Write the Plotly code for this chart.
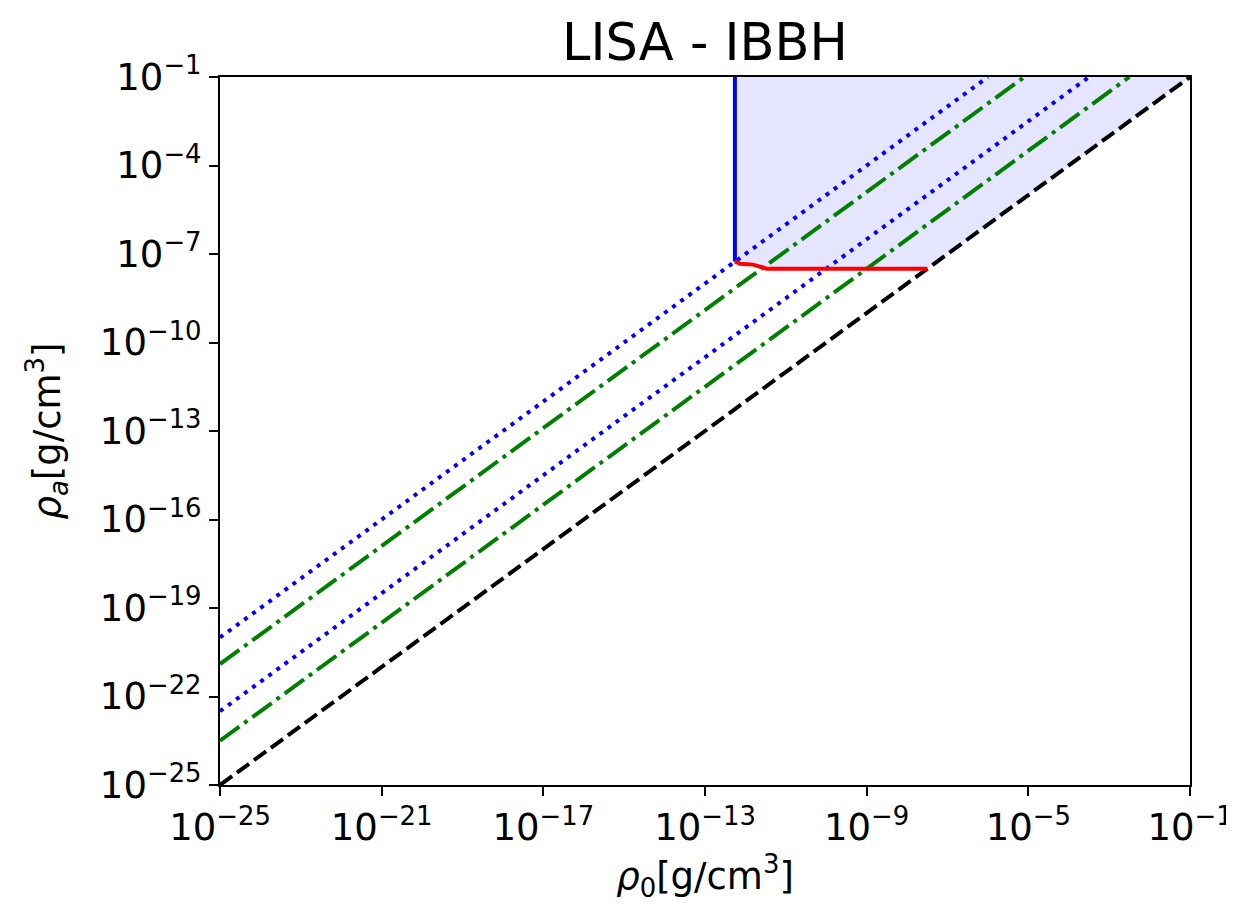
import plotly.graph_objects as go

# log10 values
x_ticks = [-25, -21, -17, -13, -9, -5, -1]
y_ticks = [-25, -22, -19, -16, -13, -10, -7, -4, -1]

# diagonal reference lines (start / end points, log10)
black_x = [-25, -1]
black_y = [-25, -1]
blue_hi_x = [-25, -6]
blue_hi_y = [-20, -1]
green_hi_x = [-25, -5.1]
green_hi_y = [-20.9, -1]
blue_lo_x = [-25, -3.5]
blue_lo_y = [-22.5, -1]
green_lo_x = [-25, -2.5]
green_lo_y = [-23.5, -1]

# red boundary curve and blue vertical edge
red_x = [-12.26, -12.13, -11.81, -11.59, -11.47, -10.0, -8.5, -7.5]
red_y = [-7.25, -7.33, -7.36, -7.47, -7.50, -7.50, -7.50, -7.50]
blue_v_x = [-12.26, -12.26]
blue_v_y = [-1, -7.25]


def p(v):
    return [10 ** a for a in v]


def sup(e):
    return "10<sup>\u2212%d</sup>" % abs(e)


fig = go.Figure()

# shaded region
fill_x = blue_v_x + red_x + [-1, -12.26]
fill_y = blue_v_y + red_y + [-1, -1]
fig.add_trace(go.Scatter(x=p(fill_x), y=p(fill_y), fill="toself",
                         fillcolor="rgba(0,0,255,0.1)", mode="lines",
                         line=dict(width=0), hoverinfo="skip"))

lw = 4
dot = "4px,6px"
dashdot = "24px,6px,4px,6px"
fig.add_trace(go.Scatter(x=p(blue_hi_x), y=p(blue_hi_y), mode="lines",
                         line=dict(color="blue", width=lw, dash=dot)))
fig.add_trace(go.Scatter(x=p(green_hi_x), y=p(green_hi_y), mode="lines",
                         line=dict(color="green", width=lw, dash=dashdot)))
fig.add_trace(go.Scatter(x=p(blue_lo_x), y=p(blue_lo_y), mode="lines",
                         line=dict(color="blue", width=lw, dash=dot)))
fig.add_trace(go.Scatter(x=p(green_lo_x), y=p(green_lo_y), mode="lines",
                         line=dict(color="green", width=lw, dash=dashdot)))
fig.add_trace(go.Scatter(x=p(black_x), y=p(black_y), mode="lines",
                         line=dict(color="black", width=lw, dash="15px,6px")))
fig.add_trace(go.Scatter(x=p(blue_v_x), y=p(blue_v_y), mode="lines",
                         line=dict(color="blue", width=lw)))
fig.add_trace(go.Scatter(x=p(red_x), y=p(red_y), mode="lines",
                         line=dict(color="red", width=lw)))

font = "DejaVu Sans"
axis = dict(type="log", showgrid=False, zeroline=False, showline=True,
            mirror=True, linecolor="black", linewidth=2, ticks="outside",
            ticklen=9, tickwidth=2, tickcolor="black", automargin=False,
            tickfont=dict(family=font, size=37, color="black"))

# the page body adds an 8px offset, so the figure is 8px smaller each way
fig.update_layout(
    width=1226, height=900,
    margin=dict(l=212, r=44, t=69, b=123, autoexpand=False),
    plot_bgcolor="white", paper_bgcolor="white",
    showlegend=False,
    title=dict(text="LISA - IBBH", xref="paper", x=0.5, xanchor="center",
               y=1 - 34 / 900, yanchor="middle",
               font=dict(family=font, size=51, color="black")),
    xaxis=dict(axis, range=[-25, -1], tickvals=p(x_ticks),
               ticktext=[sup(e) for e in x_ticks],
               title=dict(text="<i>\u03c1</i><sub>0</sub>[g/cm<sup>3</sup>]",
                          font=dict(family=font, size=37, color="black"),
                          standoff=4)),
    yaxis=dict(axis, range=[-25, -1], tickvals=p(y_ticks),
               ticktext=[sup(e) for e in y_ticks],
               title=dict(text="<i>\u03c1</i><sub><i>a</i></sub>[g/cm<sup>3</sup>]",
                          font=dict(family=font, size=37, color="black"),
                          standoff=28)),
)

fig.write_html("out.html")
